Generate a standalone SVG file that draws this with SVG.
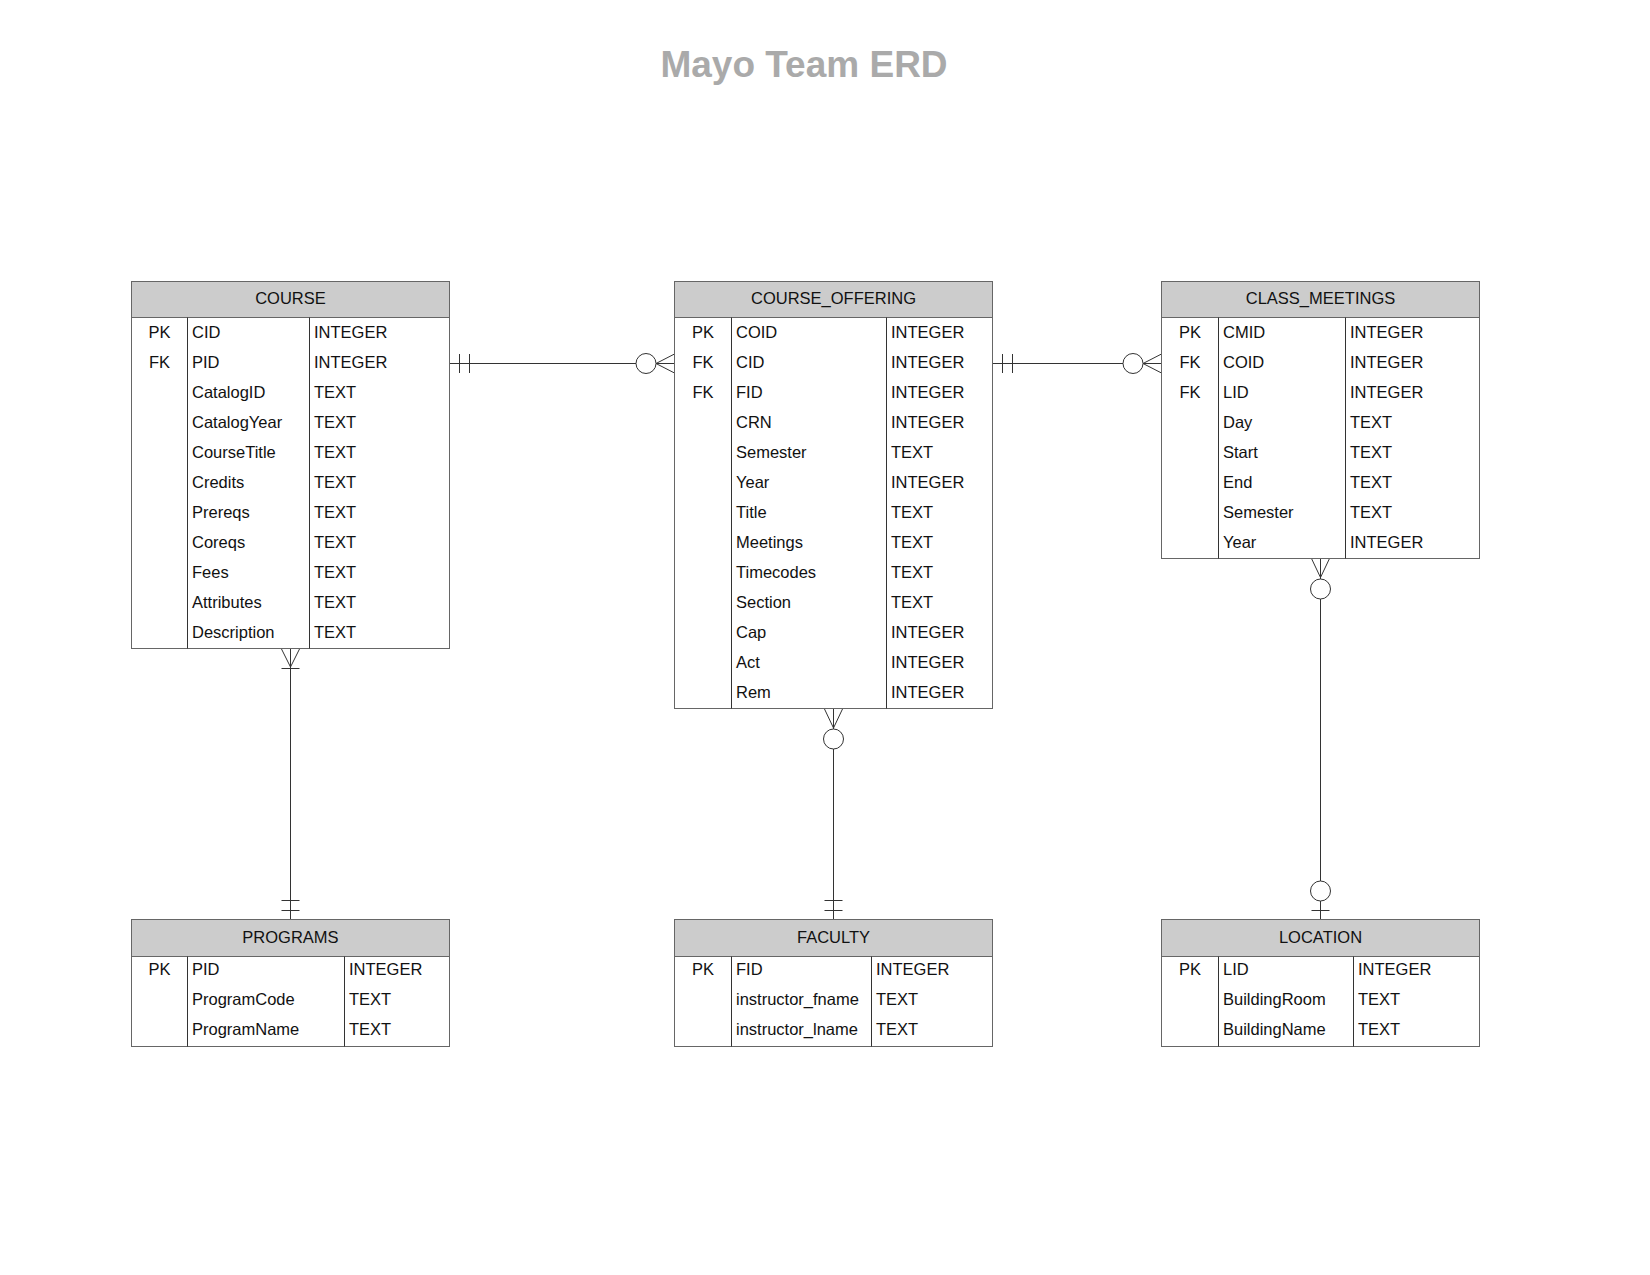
<svg xmlns="http://www.w3.org/2000/svg" width="1650" height="1275" viewBox="0 0 1650 1275">
<style>
.t{font-family:"Liberation Sans",Arial,sans-serif;font-size:16.5px;fill:#111}
.c{text-anchor:middle}
.title{font-family:"Liberation Sans",Arial,sans-serif;font-size:37px;font-weight:bold;fill:#aaaaaa;text-anchor:middle}
.box{fill:#ffffff;stroke:#666;stroke-width:1}
.hdr{fill:#cccccc;stroke:#666;stroke-width:1}
.div{stroke:#333;stroke-width:1}
.cn{stroke:#333;stroke-width:1;fill:none}
.ci{stroke:#333;stroke-width:1;fill:#ffffff}
</style>
<rect width="1650" height="1275" fill="#ffffff"/>
<text class="title" x="804" y="77">Mayo Team ERD</text>

<g id="connectors">
  <!-- COURSE - COURSE_OFFERING -->
  <line class="cn" x1="449.5" y1="363.5" x2="636" y2="363.5"/>
  <line class="cn" x1="459.5" y1="354" x2="459.5" y2="373"/>
  <line class="cn" x1="469.5" y1="354" x2="469.5" y2="373"/>
  <circle class="ci" cx="646" cy="363.5" r="10"/>
  <path class="cn" d="M656,363.5 L674.5,354 M656,363.5 L674.5,373 M656,363.5 L674.5,363.5"/>
  <!-- COURSE_OFFERING - CLASS_MEETINGS -->
  <line class="cn" x1="992.5" y1="363.5" x2="1123" y2="363.5"/>
  <line class="cn" x1="1002.5" y1="354" x2="1002.5" y2="373"/>
  <line class="cn" x1="1012.5" y1="354" x2="1012.5" y2="373"/>
  <circle class="ci" cx="1133" cy="363.5" r="10"/>
  <path class="cn" d="M1143,363.5 L1161.5,354 M1143,363.5 L1161.5,373 M1143,363.5 L1161.5,363.5"/>
  <!-- COURSE - PROGRAMS -->
  <line class="cn" x1="290.5" y1="649" x2="290.5" y2="919.5"/>
  <path class="cn" d="M281.5,649 L290.5,667 M299.5,649 L290.5,667"/>
  <line class="cn" x1="281.5" y1="668.5" x2="299.5" y2="668.5"/>
  <line class="cn" x1="281.5" y1="900.5" x2="299.5" y2="900.5"/>
  <line class="cn" x1="281.5" y1="910.5" x2="299.5" y2="910.5"/>
  <!-- COURSE_OFFERING - FACULTY -->
  <path class="cn" d="M824.5,709 L833.5,728 M842.5,709 L833.5,728 M833.5,709 L833.5,729"/>
  <circle class="ci" cx="833.5" cy="739" r="10"/>
  <line class="cn" x1="833.5" y1="749" x2="833.5" y2="919.5"/>
  <line class="cn" x1="824.5" y1="900.5" x2="842.5" y2="900.5"/>
  <line class="cn" x1="824.5" y1="910.5" x2="842.5" y2="910.5"/>
  <!-- CLASS_MEETINGS - LOCATION -->
  <path class="cn" d="M1311.5,558.5 L1320.5,577.5 M1329.5,558.5 L1320.5,577.5 M1320.5,558.5 L1320.5,579"/>
  <circle class="ci" cx="1320.5" cy="589" r="10"/>
  <line class="cn" x1="1320.5" y1="599" x2="1320.5" y2="881"/>
  <circle class="ci" cx="1320.5" cy="891" r="10"/>
  <line class="cn" x1="1320.5" y1="901" x2="1320.5" y2="919.5"/>
  <line class="cn" x1="1311.5" y1="910.5" x2="1329.5" y2="910.5"/>
</g>

<g id="course">
  <rect class="box" x="131.5" y="281.5" width="318" height="367"/>
  <rect class="hdr" x="131.5" y="281.5" width="318" height="36"/>
  <line class="div" x1="187.5" y1="317.5" x2="187.5" y2="648.5"/>
  <line class="div" x1="309.5" y1="317.5" x2="309.5" y2="648.5"/>
  <text class="t c" x="290.5" y="303.5">COURSE</text>
  <text class="t c" x="159.5" y="338">PK</text><text class="t" x="192" y="338">CID</text><text class="t" x="314" y="338">INTEGER</text>
  <text class="t c" x="159.5" y="368">FK</text><text class="t" x="192" y="368">PID</text><text class="t" x="314" y="368">INTEGER</text>
  <text class="t" x="192" y="398">CatalogID</text><text class="t" x="314" y="398">TEXT</text>
  <text class="t" x="192" y="428">CatalogYear</text><text class="t" x="314" y="428">TEXT</text>
  <text class="t" x="192" y="458">CourseTitle</text><text class="t" x="314" y="458">TEXT</text>
  <text class="t" x="192" y="488">Credits</text><text class="t" x="314" y="488">TEXT</text>
  <text class="t" x="192" y="518">Prereqs</text><text class="t" x="314" y="518">TEXT</text>
  <text class="t" x="192" y="548">Coreqs</text><text class="t" x="314" y="548">TEXT</text>
  <text class="t" x="192" y="578">Fees</text><text class="t" x="314" y="578">TEXT</text>
  <text class="t" x="192" y="608">Attributes</text><text class="t" x="314" y="608">TEXT</text>
  <text class="t" x="192" y="638">Description</text><text class="t" x="314" y="638">TEXT</text>
</g>

<g id="course_offering">
  <rect class="box" x="674.5" y="281.5" width="318" height="427"/>
  <rect class="hdr" x="674.5" y="281.5" width="318" height="36"/>
  <line class="div" x1="731.5" y1="317.5" x2="731.5" y2="708.5"/>
  <line class="div" x1="886.5" y1="317.5" x2="886.5" y2="708.5"/>
  <text class="t c" x="833.5" y="303.5">COURSE_OFFERING</text>
  <text class="t c" x="703" y="338">PK</text><text class="t" x="736" y="338">COID</text><text class="t" x="891" y="338">INTEGER</text>
  <text class="t c" x="703" y="368">FK</text><text class="t" x="736" y="368">CID</text><text class="t" x="891" y="368">INTEGER</text>
  <text class="t c" x="703" y="398">FK</text><text class="t" x="736" y="398">FID</text><text class="t" x="891" y="398">INTEGER</text>
  <text class="t" x="736" y="428">CRN</text><text class="t" x="891" y="428">INTEGER</text>
  <text class="t" x="736" y="458">Semester</text><text class="t" x="891" y="458">TEXT</text>
  <text class="t" x="736" y="488">Year</text><text class="t" x="891" y="488">INTEGER</text>
  <text class="t" x="736" y="518">Title</text><text class="t" x="891" y="518">TEXT</text>
  <text class="t" x="736" y="548">Meetings</text><text class="t" x="891" y="548">TEXT</text>
  <text class="t" x="736" y="578">Timecodes</text><text class="t" x="891" y="578">TEXT</text>
  <text class="t" x="736" y="608">Section</text><text class="t" x="891" y="608">TEXT</text>
  <text class="t" x="736" y="638">Cap</text><text class="t" x="891" y="638">INTEGER</text>
  <text class="t" x="736" y="668">Act</text><text class="t" x="891" y="668">INTEGER</text>
  <text class="t" x="736" y="698">Rem</text><text class="t" x="891" y="698">INTEGER</text>
</g>

<g id="class_meetings">
  <rect class="box" x="1161.5" y="281.5" width="318" height="277"/>
  <rect class="hdr" x="1161.5" y="281.5" width="318" height="36"/>
  <line class="div" x1="1218.5" y1="317.5" x2="1218.5" y2="558.5"/>
  <line class="div" x1="1345.5" y1="317.5" x2="1345.5" y2="558.5"/>
  <text class="t c" x="1320.5" y="303.5">CLASS_MEETINGS</text>
  <text class="t c" x="1190" y="338">PK</text><text class="t" x="1223" y="338">CMID</text><text class="t" x="1350" y="338">INTEGER</text>
  <text class="t c" x="1190" y="368">FK</text><text class="t" x="1223" y="368">COID</text><text class="t" x="1350" y="368">INTEGER</text>
  <text class="t c" x="1190" y="398">FK</text><text class="t" x="1223" y="398">LID</text><text class="t" x="1350" y="398">INTEGER</text>
  <text class="t" x="1223" y="428">Day</text><text class="t" x="1350" y="428">TEXT</text>
  <text class="t" x="1223" y="458">Start</text><text class="t" x="1350" y="458">TEXT</text>
  <text class="t" x="1223" y="488">End</text><text class="t" x="1350" y="488">TEXT</text>
  <text class="t" x="1223" y="518">Semester</text><text class="t" x="1350" y="518">TEXT</text>
  <text class="t" x="1223" y="548">Year</text><text class="t" x="1350" y="548">INTEGER</text>
</g>

<g id="programs">
  <rect class="box" x="131.5" y="919.5" width="318" height="127"/>
  <rect class="hdr" x="131.5" y="919.5" width="318" height="37"/>
  <line class="div" x1="187.5" y1="956.5" x2="187.5" y2="1046.5"/>
  <line class="div" x1="344.5" y1="956.5" x2="344.5" y2="1046.5"/>
  <text class="t c" x="290.5" y="942.5">PROGRAMS</text>
  <text class="t c" x="159.5" y="975">PK</text><text class="t" x="192" y="975">PID</text><text class="t" x="349" y="975">INTEGER</text>
  <text class="t" x="192" y="1005">ProgramCode</text><text class="t" x="349" y="1005">TEXT</text>
  <text class="t" x="192" y="1035">ProgramName</text><text class="t" x="349" y="1035">TEXT</text>
</g>

<g id="faculty">
  <rect class="box" x="674.5" y="919.5" width="318" height="127"/>
  <rect class="hdr" x="674.5" y="919.5" width="318" height="37"/>
  <line class="div" x1="731.5" y1="956.5" x2="731.5" y2="1046.5"/>
  <line class="div" x1="871.5" y1="956.5" x2="871.5" y2="1046.5"/>
  <text class="t c" x="833.5" y="942.5">FACULTY</text>
  <text class="t c" x="703" y="975">PK</text><text class="t" x="736" y="975">FID</text><text class="t" x="876" y="975">INTEGER</text>
  <text class="t" x="736" y="1005">instructor_fname</text><text class="t" x="876" y="1005">TEXT</text>
  <text class="t" x="736" y="1035">instructor_lname</text><text class="t" x="876" y="1035">TEXT</text>
</g>

<g id="location">
  <rect class="box" x="1161.5" y="919.5" width="318" height="127"/>
  <rect class="hdr" x="1161.5" y="919.5" width="318" height="37"/>
  <line class="div" x1="1218.5" y1="956.5" x2="1218.5" y2="1046.5"/>
  <line class="div" x1="1353.5" y1="956.5" x2="1353.5" y2="1046.5"/>
  <text class="t c" x="1320.5" y="942.5">LOCATION</text>
  <text class="t c" x="1190" y="975">PK</text><text class="t" x="1223" y="975">LID</text><text class="t" x="1358" y="975">INTEGER</text>
  <text class="t" x="1223" y="1005">BuildingRoom</text><text class="t" x="1358" y="1005">TEXT</text>
  <text class="t" x="1223" y="1035">BuildingName</text><text class="t" x="1358" y="1035">TEXT</text>
</g>
</svg>
